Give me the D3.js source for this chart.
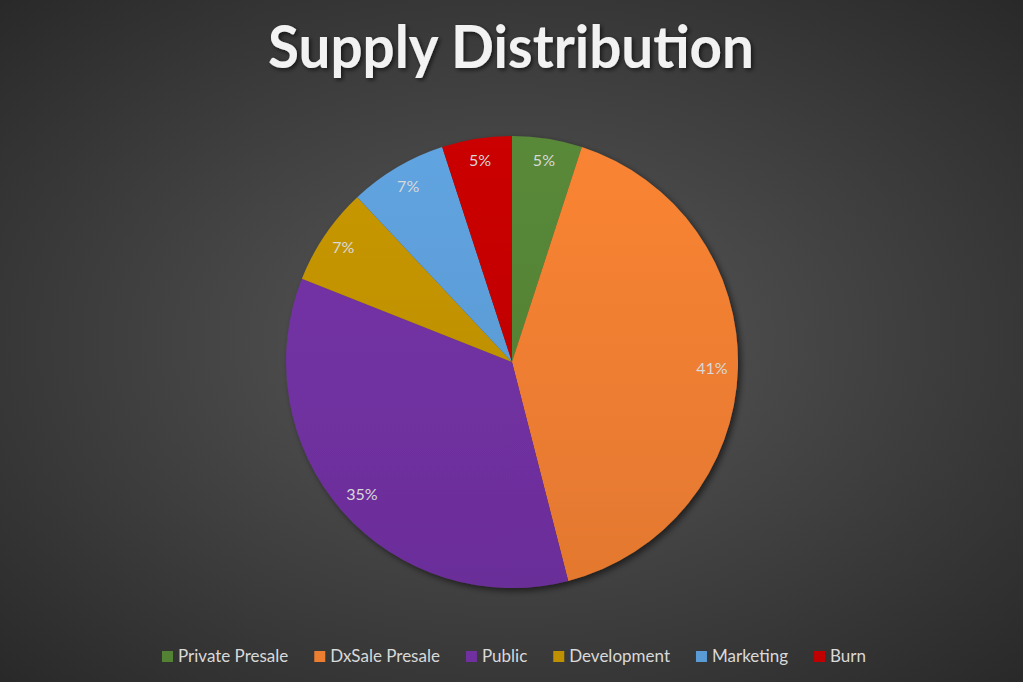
<!DOCTYPE html>
<html>
<head>
<meta charset="utf-8">
<script src="https://cdn.jsdelivr.net/npm/d3@7"></script>
<style>
  html, body { margin: 0; padding: 0; background: #333; }
  svg { display: block; font-family: Lato, "Open Sans", sans-serif; }
</style>
</head>
<body>
<div id="chart"></div>
<script>
// chart data
const categories = ["Private Presale", "DxSale Presale", "Public", "Development", "Marketing", "Burn"];
const shares = [5, 41, 35, 7, 7, 5];
const pctLabels = ["5%", "41%", "35%", "7%", "7%", "5%"];
const colours = ["#548235", "#ED7D31", "#7030A0", "#BF9000", "#5B9BD5", "#C00000"];

var width = 1023;
var height = 682;
var radius = 226;
var cx = 512, cy = 362;

var svg = d3.select('#chart')
  .append('svg')
  .attr('width', width)
  .attr('height', height);

var defs = svg.append('defs');

// background radial gradient
var bg = defs.append('radialGradient')
  .attr('id', 'bg')
  .attr('cx', '50%').attr('cy', '50%').attr('r', '75%');
bg.append('stop').attr('offset', '0%').attr('stop-color', '#595959');
bg.append('stop').attr('offset', '100%').attr('stop-color', '#262626');

// slice gradients: lighter at top, darker at bottom (user space of the pie group)
colours.forEach((c, i) => {
  var g = defs.append('linearGradient')
    .attr('id', 'slice' + i)
    .attr('gradientUnits', 'userSpaceOnUse')
    .attr('x1', 0).attr('y1', -radius)
    .attr('x2', 0).attr('y2', radius);
  g.append('stop').attr('offset', '0%').attr('stop-color', d3.color(c).brighter(0.15));
  g.append('stop').attr('offset', '100%').attr('stop-color', d3.color(c).darker(0.12));
});

var shadow = defs.append('filter').attr('id', 'shadow')
  .attr('x', '-10%').attr('y', '-10%').attr('width', '120%').attr('height', '120%');
shadow.append('feDropShadow')
  .attr('dx', 3).attr('dy', 3).attr('stdDeviation', 3)
  .attr('flood-color', '#000').attr('flood-opacity', 0.55);

var titleShadow = defs.append('filter').attr('id', 'tshadow');
titleShadow.append('feDropShadow')
  .attr('dx', 2).attr('dy', 2).attr('stdDeviation', 2)
  .attr('flood-color', '#000').attr('flood-opacity', 0.6);

svg.append('rect')
  .attr('width', width).attr('height', height)
  .attr('fill', 'url(#bg)');

// title
var title = svg.append('text')
  .attr('x', 511).attr('y', 68)
  .attr('text-anchor', 'middle')
  .attr('fill', '#f2f2f2')
  .attr('font-weight', 'bold')
  .attr('font-size', 59)
  .attr('filter', 'url(#tshadow)')
  .text('Supply Distribution');
// squeeze to the reference width
var tw = title.node().getComputedTextLength();
if (tw > 486) title.attr('textLength', 486).attr('lengthAdjust', 'spacingAndGlyphs');

// pie
var data = categories.map((c, i) => ({ label: c, value: shares[i], pct: pctLabels[i], i: i }));

const pie = d3.pie()
  .value(d => d.value)
  .sort(null);

const pieData = pie(data);

const arc = d3.arc()
  .innerRadius(0)
  .outerRadius(radius);

var pieG = svg.append('g')
  .attr('transform', `translate(${cx}, ${cy})`);

pieG.append('g')
  .attr('filter', 'url(#shadow)')
  .selectAll('path')
  .data(pieData)
  .enter()
  .append('path')
  .attr('d', arc)
  .attr('fill', d => `url(#slice${d.data.i})`);

// percentage labels near the outer edge (inside end)
pieG.selectAll('text.pct')
  .data(pieData)
  .enter()
  .append('text')
  .attr('class', 'pct')
  .attr('transform', d => {
    var a = (d.startAngle + d.endAngle) / 2;
    var r = d.value > 20 ? radius - 26 : radius - 22;
    return `translate(${Math.sin(a) * r}, ${-Math.cos(a) * r})`;
  })
  .attr('text-anchor', 'middle')
  .attr('dy', '0.35em')
  .attr('fill', '#d9d9d9')
  .attr('font-size', 16)
  .text(d => d.data.pct);

// legend
var legend = svg.append('g');
var x = 0;
categories.forEach((c, i) => {
  var g = legend.append('g');
  g.append('rect')
    .attr('x', x).attr('y', -5)
    .attr('width', 11).attr('height', 11)
    .attr('fill', colours[i]);
  var t = g.append('text')
    .attr('x', x + 16).attr('y', 0)
    .attr('dy', '0.35em')
    .attr('fill', '#d9d9d9')
    .attr('font-size', 17)
    .text(c);
  x += 16 + t.node().getComputedTextLength() + 26;
});
var total = x - 26;
legend.attr('transform', `translate(${514 - total / 2}, 656)`);
</script>
</body>
</html>
